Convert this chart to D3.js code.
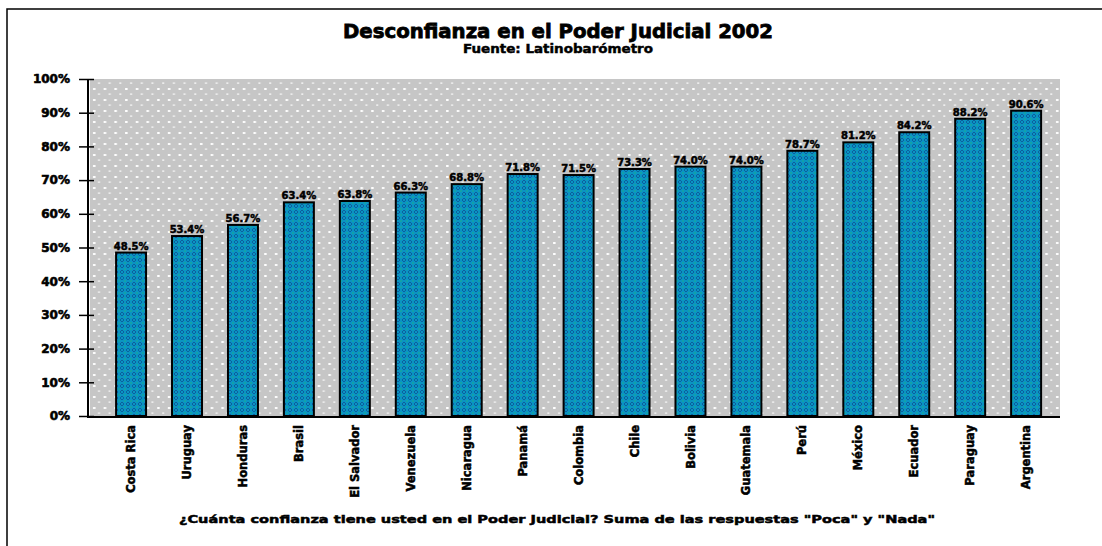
<!DOCTYPE html>
<html>
<head>
<meta charset="utf-8">
<script src="https://cdn.jsdelivr.net/npm/d3@7"></script>
<style>
  body { margin: 0; background: #fff; }
  text { font-family: "DejaVu Sans", sans-serif; font-weight: bold; }
</style>
</head>
<body>
<svg id="chart"></svg>
<script>
let countries = ["Costa Rica", "Uruguay", "Honduras", "Brasil", "El Salvador", "Venezuela", "Nicaragua", "Panamá", "Colombia", "Chile", "Bolivia", "Guatemala", "Perú", "México", "Ecuador", "Paraguay", "Argentina"];
let values = [48.5, 53.4, 56.7, 63.4, 63.8, 66.3, 68.8, 71.8, 71.5, 73.3, 74.0, 74.0, 78.7, 81.2, 84.2, 88.2, 90.6];
let yTicks = [0, 10, 20, 30, 40, 50, 60, 70, 80, 90, 100];

let title = "Desconfianza en el Poder Judicial 2002";
let subtitle = "Fuente: Latinobarómetro";
let xTitle = "¿Cuánta confianza tiene usted en el Poder Judicial? Suma de las respuestas \"Poca\" y \"Nada\"";

let w = 1102;
let h = 546;
let plotLeft = 88;
let plotRight = 1060;
let plotTop = 79;
let plotBottom = 417;

let svg = d3.select("#chart")
            .attr("width", w)
            .attr("height", h);

let defs = svg.append("defs");

// dotted gray plot background
let bg = defs.append("pattern")
             .attr("id", "dots")
             .attr("patternUnits", "userSpaceOnUse")
             .attr("x", 90).attr("y", plotTop)
             .attr("width", 10.7).attr("height", 11);
bg.append("rect").attr("width", 10.7).attr("height", 11).attr("fill", "#c6c6c6");
bg.append("rect").attr("x", 3).attr("y", 9).attr("width", 2.5).attr("height", 2).attr("fill", "#fff");
bg.append("rect").attr("x", 8).attr("y", 3.5).attr("width", 2).attr("height", 1.2).attr("fill", "#fff");

// blue bar texture
let tex = defs.append("pattern")
              .attr("id", "barfill")
              .attr("patternUnits", "userSpaceOnUse")
              .attr("width", 6).attr("height", 6);
tex.append("rect").attr("width", 6).attr("height", 6).attr("fill", "#0a94c2");
tex.append("rect").attr("x", 1).attr("y", 0).attr("width", 2).attr("height", 1).attr("fill", "#0d5e9e");
tex.append("rect").attr("x", 0).attr("y", 1).attr("width", 1).attr("height", 2).attr("fill", "#0d5e9e");
tex.append("rect").attr("x", 3).attr("y", 1).attr("width", 1).attr("height", 2).attr("fill", "#0d5e9e");
tex.append("rect").attr("x", 1).attr("y", 3).attr("width", 2).attr("height", 1).attr("fill", "#0d5e9e");
tex.append("rect").attr("x", 4).attr("y", 4).attr("width", 2).attr("height", 2).attr("fill", "#12a0a8");

// outer frame
svg.append("rect")
   .attr("x", 7).attr("y", 9)
   .attr("width", 1120).attr("height", 560)
   .attr("fill", "none")
   .attr("stroke", "#000")
   .attr("stroke-width", 1.5);

svg.append("text")
   .attr("x", 558).attr("y", 38)
   .attr("text-anchor", "middle")
   .attr("font-size", 19)
   .attr("textLength", 430)
   .attr("lengthAdjust", "spacingAndGlyphs")
   .attr("stroke", "#000").attr("stroke-width", 0.8)
   .text(title);

svg.append("text")
   .attr("x", 558).attr("y", 53)
   .attr("text-anchor", "middle")
   .attr("font-size", 13)
   .attr("textLength", 190)
   .attr("lengthAdjust", "spacingAndGlyphs")
   .attr("stroke", "#000").attr("stroke-width", 0.5)
   .text(subtitle);

let xScale = d3.scaleBand()
               .domain(countries)
               .range([90, plotRight])
               .paddingInner(0.464)
               .paddingOuter(0.402)
               .align(0.58);

let yScale = d3.scaleLinear()
               .domain([0, 100])
               .range([plotBottom - 1, plotTop]);

svg.append("rect")
   .attr("x", 90).attr("y", plotTop)
   .attr("width", plotRight - 90).attr("height", plotBottom - plotTop)
   .attr("fill", "url(#dots)");

svg.selectAll(".bar")
   .data(values)
   .enter()
   .append("rect")
   .attr("class", "bar")
   .attr("x", (d, i) => xScale(countries[i]))
   .attr("y", (d) => yScale(d))
   .attr("width", xScale.bandwidth())
   .attr("height", (d) => yScale(0) - yScale(d))
   .attr("fill", "url(#barfill)")
   .attr("stroke", "#000")
   .attr("stroke-width", 2);

svg.selectAll(".val")
   .data(values)
   .enter()
   .append("text")
   .attr("class", "val")
   .attr("x", (d, i) => xScale(countries[i]) + xScale.bandwidth() / 2)
   .attr("y", (d) => yScale(d) - 3)
   .attr("text-anchor", "middle")
   .attr("font-size", 10)
   .attr("stroke", "#000").attr("stroke-width", 0.5)
   .text((d) => d.toFixed(1) + "%");

let yAxis = d3.axisLeft(yScale)
              .tickValues(yTicks)
              .tickSize(9)
              .tickPadding(9)
              .tickFormat((d) => d + "%");

let yG = svg.append("g")
            .attr("transform", `translate(${plotLeft}, 0)`)
            .call(yAxis);
yG.select(".domain").remove();
yG.selectAll(".tick line").attr("stroke-width", 1.5);
yG.selectAll(".tick")
  .append("line")
  .attr("x2", 6)
  .attr("stroke", "#000")
  .attr("stroke-width", 1.5);
yG.selectAll("text")
  .attr("font-size", 12)
  .attr("font-family", "DejaVu Sans")
  .attr("font-weight", "bold")
  .attr("stroke", "#000").attr("stroke-width", 0.6);

svg.append("line")
   .attr("x1", plotLeft).attr("x2", plotLeft)
   .attr("y1", plotTop).attr("y2", plotBottom)
   .attr("stroke", "#000").attr("stroke-width", 2);

let xAxis = d3.axisBottom(xScale).tickSize(0).tickPadding(0);
let xG = svg.append("g")
            .attr("transform", `translate(0, ${plotBottom})`)
            .call(xAxis);
xG.select(".domain").remove();
xG.selectAll("text")
  .attr("font-size", 11.5)
  .attr("font-family", "DejaVu Sans")
  .attr("font-weight", "bold")
  .attr("stroke", "#000").attr("stroke-width", 0.5)
  .attr("transform", "rotate(-90)")
  .attr("text-anchor", "end")
  .attr("x", -8)
  .attr("y", 0)
  .attr("dy", "0.35em");

svg.append("line")
   .attr("x1", plotLeft - 1).attr("x2", plotRight)
   .attr("y1", plotBottom).attr("y2", plotBottom)
   .attr("stroke", "#000").attr("stroke-width", 2);

svg.append("text")
   .attr("x", 557).attr("y", 523)
   .attr("text-anchor", "middle")
   .attr("font-size", 11)
   .attr("textLength", 756)
   .attr("lengthAdjust", "spacingAndGlyphs")
   .attr("stroke", "#000").attr("stroke-width", 0.5)
   .text(xTitle);
</script>
</body>
</html>
